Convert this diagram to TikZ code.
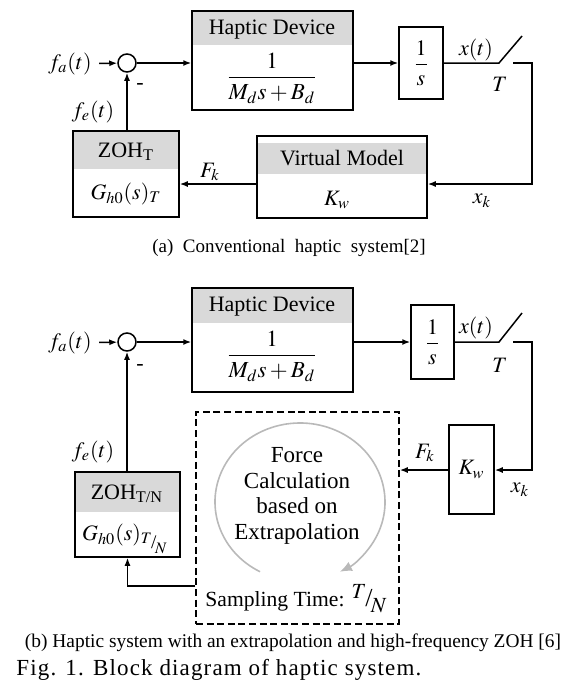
\documentclass[tikz,border=0pt]{standalone}
\usepackage{mathptmx}
\usepackage{amsmath}
\usepackage{fontspec}
\setmainfont{Liberation Serif}
\usetikzlibrary{arrows.meta}

\definecolor{hdrgray}{RGB}{217,217,217}
\definecolor{arcgray}{RGB}{185,185,185}

% sampling time written as T over a slash over N
\newcommand{\slTN}{\raisebox{0.35em}{$T$}\kern-0.05em\scalebox{1.2}{/}\kern-0.08em\raisebox{-0.3em}{$N$}}

\tikzset{
  sig/.style={-{Latex[length=4pt,width=3pt]}},
  sumpt/.style={draw, circle, minimum size=9pt, inner sep=0pt},
  blk/.style 2 args={draw, inner sep=0pt,
    path picture={\fill[hdrgray] ([yshift={-(#1)}]path picture bounding box.north west)
      rectangle ([yshift={-(#1)-(#2)}]path picture bounding box.north east);}},
}

\begin{document}
\begin{tikzpicture}[x=0.5pt, y=-0.5pt, line width=0.75pt,
    every node/.style={font=\fontsize{11}{13}\selectfont}]
  \useasboundingbox (0,0) rectangle (573,686);

  % (a) conventional system
  \node[sumpt] (s1) at (127,63) {};
  \node (fa1) at (70,64) {$f_a(t)$};
  \node[blk={0pt}{17pt}, minimum width=80.5pt, minimum height=49.5pt] (hd1) at (272.5,60.5) {};
  \node (hd1t) at (272,30) {Haptic Device};
  \node[font=\fontsize{11.5}{13}\selectfont] (hd1f) at (272,78) {$\dfrac{1}{M_d s+B_d}$};
  \node[draw, minimum width=22pt, minimum height=36pt, inner sep=0pt] (int1) at (421,63) {$\dfrac{1}{s}$};
  \coordinate (sw1a) at (499,63);
  \coordinate (sw1b) at (522,36);
  \coordinate (sw1c) at (513,63);
  \coordinate (fb1) at (532,184);
  \node (xt1) at (476,50) {$x(t)$};
  \node (T1) at (500,84) {$T$};
  \node[blk={3.5pt}{15.5pt}, minimum width=85pt, minimum height=41pt] (vm1) at (342,177) {};
  \node (vm1t) at (342,158) {Virtual Model};
  \node (vm1k) at (337,200) {$K_w$};
  \node[blk={0pt}{19pt}, minimum width=53pt, minimum height=43pt] (zoh1) at (126,174) {};
  \node (zoh1t) at (126,152) {ZOH\textsubscript{T}};
  \node (zoh1g) at (126,194) {$G_{h0}(s)_T$};
  \node (xk1) at (482,201) {$x_k$};
  \node (Fk1) at (210,172) {$F_k$};
  \node (fe1) at (93,112) {$f_e(t)$};
  \node (neg1) at (140,86) {-};

  \draw[sig] (fa1) -- (s1);
  \draw[sig] (s1) -- (hd1.west |- s1);
  \draw[sig] (hd1.east |- s1) -- (int1);
  \draw (int1) -- (sw1a) -- (sw1b);
  \draw[sig] (sw1c) -| (fb1) -- (vm1.east |- fb1);
  \draw[sig] (vm1.west |- fb1) -- (zoh1.east |- fb1);
  \draw[sig] (zoh1.north -| s1) -- (s1);

  \node (capa) at (289,248) {\fontsize{9.5}{11}\selectfont (a)\ \ Conventional\ \ haptic\ \ system[2]};

  % (b) extrapolation and fast ZOH
  \node[sumpt] (s2) at (127,342) {};
  \node (fa2) at (70,343) {$f_a(t)$};
  \node[blk={0pt}{17.5pt}, minimum width=80.5pt, minimum height=52pt] (hd2) at (272.5,340) {};
  \node (hd2t) at (272,307) {Haptic Device};
  \node[font=\fontsize{11.5}{13}\selectfont] (hd2f) at (272,356) {$\dfrac{1}{M_d s+B_d}$};
  \node[draw, minimum width=21.5pt, minimum height=37pt, inner sep=0pt] (int2) at (432.5,342) {$\dfrac{1}{s}$};
  \coordinate (sw2a) at (499,342);
  \coordinate (sw2b) at (522,313);
  \coordinate (sw2c) at (513,342);
  \coordinate (fb2) at (532,470);
  \node (xt2) at (476,328) {$x(t)$};
  \node (T2) at (500,365) {$T$};
  \node[draw, minimum width=22.5pt, minimum height=44.5pt, inner sep=0pt] (kw2) at (471.5,469.5) {$K_w$};
  \node[draw, dash pattern=on 3.5pt off 1.8pt, minimum width=101.5pt, minimum height=106pt] (db) at (297.5,518) {};
  \coordinate (arcc) at (300,502);
  \node[align=center, font=\fontsize{11.5}{12.8}\selectfont] (fc) at (297,496) {Force\\Calculation\\based on\\Extrapolation};
  \node[font=\fontsize{10.8}{13}\selectfont] (samp) at (296,599) {Sampling Time: \slTN};
  \node[blk={0pt}{20pt}, minimum width=52.5pt, minimum height=42.5pt] (zoh2) at (127.5,514.5) {};
  \node (zoh2t) at (127,494) {ZOH\textsubscript{T/N}};
  \node (zoh2g) at (125,539) {$G_{h0}(s)_{\mbox{\footnotesize\slTN}}$};
  \coordinate (ret2) at (127,586);
  \node (xk2) at (520,490) {$x_k$};
  \node (Fk2) at (425,453) {$F_k$};
  \node (fe2) at (93,452) {$f_e(t)$};
  \node (neg2) at (140,367) {-};

  \draw[arcgray, line width=0.8pt, -{Latex[length=6pt,width=5pt]}]
    ([shift={(242:42.5pt and 39.5pt)}]arcc) arc[start angle=242, end angle=-62, x radius=42.5pt, y radius=39.5pt];

  \draw[sig] (fa2) -- (s2);
  \draw[sig] (s2) -- (hd2.west |- s2);
  \draw[sig] (hd2.east |- s2) -- (int2);
  \draw (int2) -- (sw2a) -- (sw2b);
  \draw[sig] (sw2c) -| (fb2) -- (kw2.east |- fb2);
  \draw[sig] (kw2.west |- fb2) -- (db.east |- fb2);
  \draw[sig] (db.west |- ret2) -| (zoh2.south);
  \draw[sig] (zoh2.north -| s2) -- (s2);

  \node (capb) at (293,643) {\fontsize{9.7}{11}\selectfont (b) Haptic system with an extrapolation and high-frequency ZOH [6]};
  \node[anchor=west] (figcap) at (9,670) {\fontsize{11.5}{14}\selectfont\addfontfeature{LetterSpace=5}Fig. 1. Block diagram of haptic system.};
\end{tikzpicture}
\end{document}
